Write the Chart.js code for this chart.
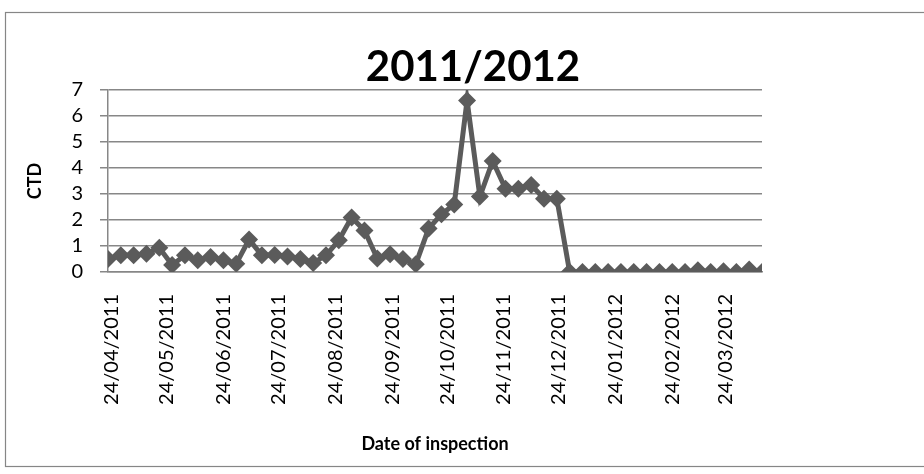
<!DOCTYPE html>
<html>
<head>
<meta charset="utf-8">
<script src="https://cdn.jsdelivr.net/npm/chart.js@4.4.1/dist/chart.umd.min.js"></script>
<style>
  html, body { margin: 0; padding: 0; background: #ffffff; }
  #wrap { position: relative; width: 924px; height: 474px; }
</style>
</head>
<body>
<div id="wrap"><canvas id="c" width="924" height="474"></canvas></div>
<script>
// ---- data ----
const chartTitle = "2011/2012";
const yAxisTitle = "CTD";
const xAxisTitle = "Date of inspection";

const inspectionDates = [
  "24/04/2011","01/05/2011","08/05/2011","15/05/2011","22/05/2011","29/05/2011",
  "05/06/2011","12/06/2011","19/06/2011","26/06/2011","03/07/2011","10/07/2011",
  "17/07/2011","24/07/2011","31/07/2011","07/08/2011","14/08/2011","21/08/2011",
  "28/08/2011","04/09/2011","11/09/2011","18/09/2011","25/09/2011","02/10/2011",
  "09/10/2011","16/10/2011","23/10/2011","30/10/2011","06/11/2011","13/11/2011",
  "20/11/2011","27/11/2011","04/12/2011","11/12/2011","18/12/2011","25/12/2011",
  "01/01/2012","08/01/2012","15/01/2012","22/01/2012","29/01/2012","05/02/2012",
  "12/02/2012","19/02/2012","26/02/2012","04/03/2012","11/03/2012","18/03/2012",
  "25/03/2012","01/04/2012","08/04/2012","15/04/2012"
];

const ctdValues = [
  0.50, 0.64, 0.64, 0.70, 0.93, 0.27, 0.64, 0.45, 0.58, 0.45, 0.32, 1.25,
  0.64, 0.65, 0.60, 0.50, 0.35, 0.64, 1.22, 2.10, 1.60, 0.52, 0.68, 0.50,
  0.30, 1.67, 2.22, 2.60, 6.60, 2.90, 4.27, 3.20, 3.20, 3.35, 2.82, 2.82,
  0.00, 0.00, 0.00, 0.00, 0.00, 0.00, 0.00, 0.00, 0.00, 0.00, 0.07, 0.00,
  0.03, 0.00, 0.10, 0.00
];

const xTickLabels = [
  "24/04/2011","24/05/2011","24/06/2011","24/07/2011","24/08/2011","24/09/2011",
  "24/10/2011","24/11/2011","24/12/2011","24/01/2012","24/02/2012","24/03/2012"
];

const yTickLabels = ["0","1","2","3","4","5","6","7"];

// ---- helpers ----
function dayNumber(s) {
  const p = s.split("/").map(Number);
  return Date.UTC(p[2], p[1] - 1, p[0]) / 86400000;
}
const day0 = dayNumber(inspectionDates[0]);
const points = inspectionDates.map((d, i) => ({ x: dayNumber(d) - day0, y: ctdValues[i] }));
const tickDays = xTickLabels.map(d => dayNumber(d) - day0);
const lastDay = dayNumber(inspectionDates[inspectionDates.length - 1]) - day0;

const FONT = "Lato, 'Open Sans', 'DejaVu Sans', sans-serif";
const GRID = "#878787";
const LINE = "#5b5b5b";

const frameAndTitle = {
  id: "frameAndTitle",
  beforeDraw(chart) {
    const ctx = chart.ctx;
    ctx.save();
    ctx.fillStyle = "#ffffff";
    ctx.fillRect(0, 0, chart.width, chart.height);
    ctx.strokeStyle = "#868686";
    ctx.lineWidth = 1.2;
    ctx.strokeRect(5.5, 12.5, 940, 454);
    ctx.restore();
  },
  afterDraw(chart) {
    const ctx = chart.ctx;
    ctx.save();
    ctx.fillStyle = "#000000";
    ctx.font = "bold 42px " + FONT;
    ctx.textAlign = "center";
    ctx.textBaseline = "middle";
    ctx.fillText(chartTitle, 473, 67);
    ctx.restore();
  }
};

new Chart(document.getElementById("c"), {
  type: "line",
  data: {
    datasets: [{
      data: points,
      borderColor: LINE,
      backgroundColor: LINE,
      borderWidth: 5,
      pointStyle: "rectRot",
      pointRadius: 9,
      pointBorderWidth: 0,
      pointBackgroundColor: LINE,
      tension: 0,
      fill: false
    }]
  },
  options: {
    responsive: false,
    animation: false,
    devicePixelRatio: 1,
    layout: { padding: { left: 0, top: 90, right: 162, bottom: 0 } },
    plugins: {
      legend: { display: false },
      title: { display: false },
      tooltip: { enabled: false }
    },
    scales: {
      x: {
        type: "linear",
        min: 0,
        max: lastDay,
        grid: { display: false, drawTicks: false },
        border: { display: true, color: GRID, width: 1.5 },
        afterBuildTicks(scale) { scale.ticks = tickDays.map(v => ({ value: v })); },
        afterFit(scale) { scale.height = 202; },
        ticks: {
          autoSkip: false,
          minRotation: 90,
          maxRotation: 90,
          padding: 22,
          labelOffset: 4,
          color: "#000000",
          font: { family: FONT, size: 20 },
          callback: (v, i) => xTickLabels[i]
        },
        title: {
          display: true,
          text: xAxisTitle,
          color: "#000000",
          font: { family: FONT, size: 18, weight: "bold" },
          padding: { top: 0, bottom: 19 }
        }
      },
      y: {
        min: 0,
        max: 7,
        afterFit(scale) { scale.width = 108; },
        ticks: {
          stepSize: 1,
          autoSkip: false,
          padding: 17,
          color: "#000000",
          font: { family: FONT, size: 20 },
          callback: (v) => yTickLabels[v]
        },
        grid: { color: GRID, lineWidth: 1.5, tickLength: 8, drawTicks: true },
        border: { display: true, color: GRID, width: 1.5 },
        title: {
          display: true,
          text: yAxisTitle,
          color: "#000000",
          font: { family: FONT, size: 18, weight: "bold" },
          padding: { top: 24, bottom: 0 }
        }
      }
    }
  },
  plugins: [frameAndTitle]
});
</script>
</body>
</html>
